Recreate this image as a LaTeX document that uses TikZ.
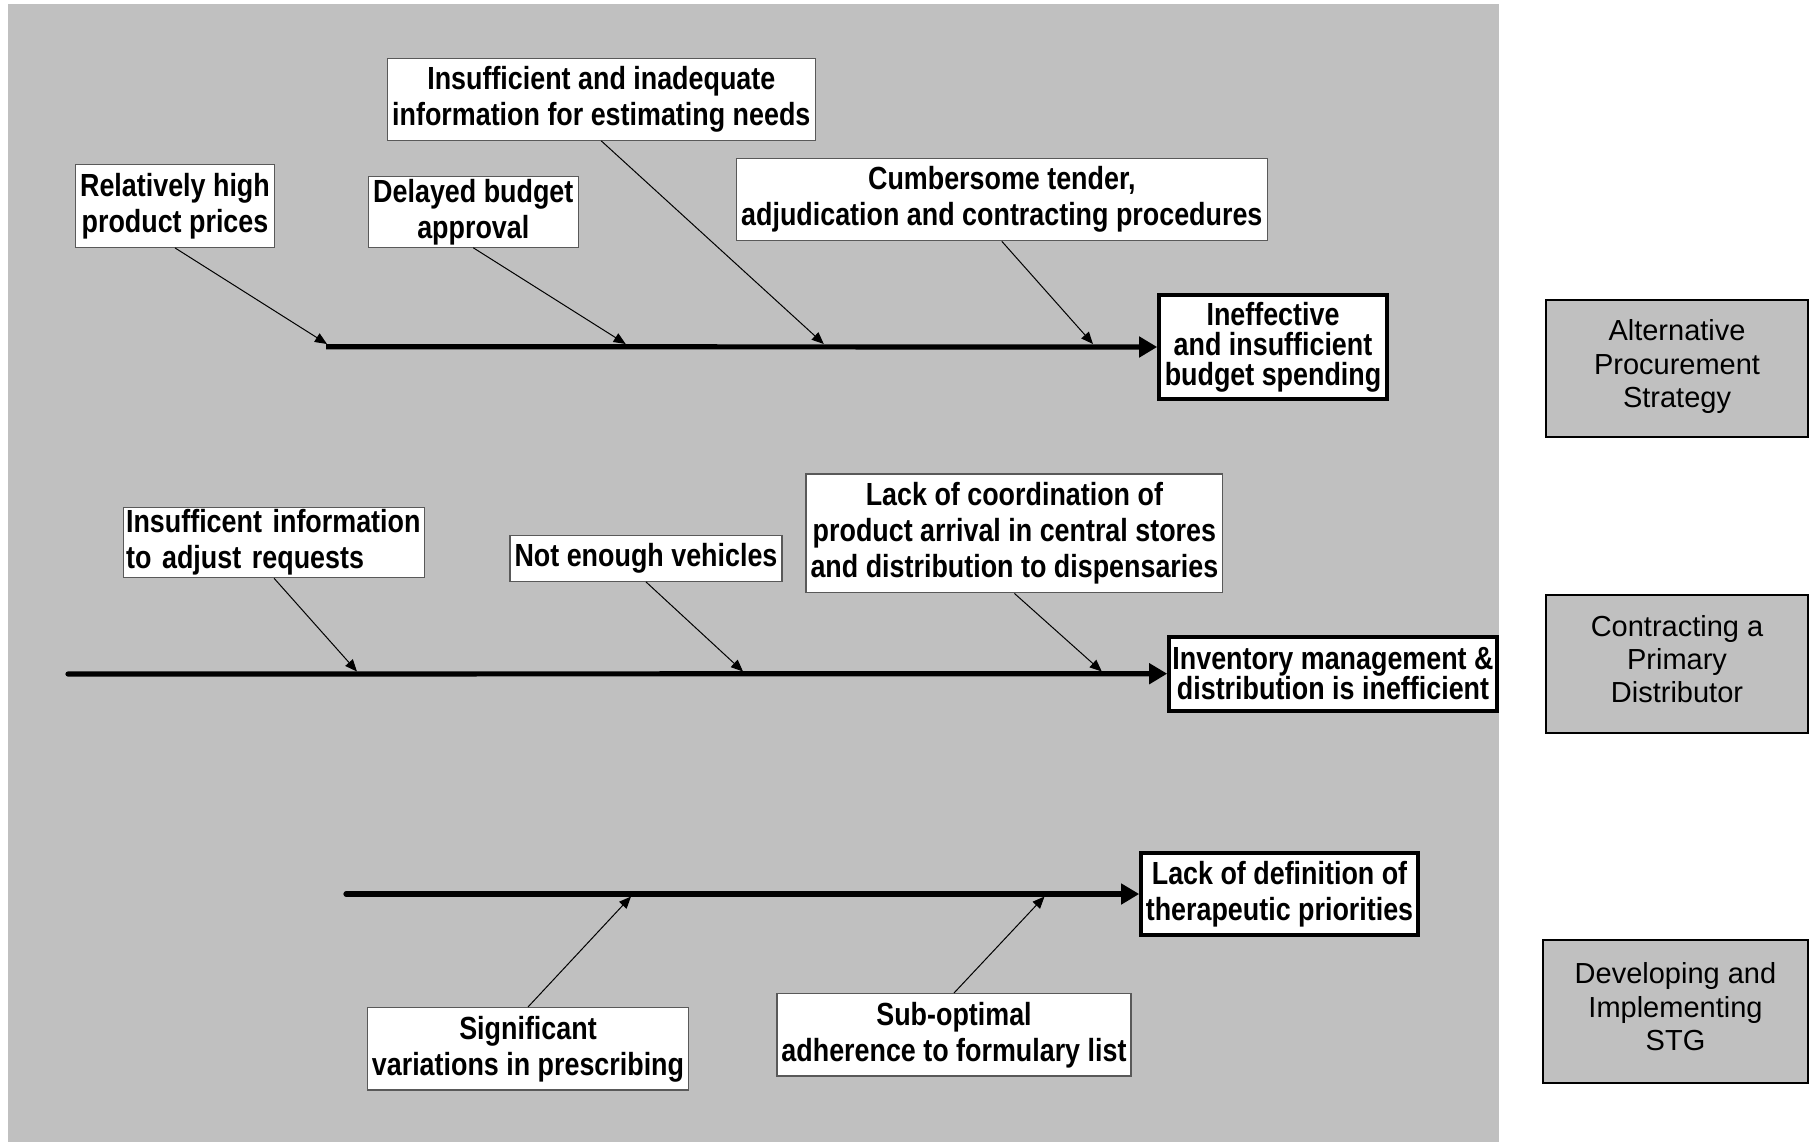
\documentclass[tikz,border=0pt]{standalone}
\usepackage{fontspec}
\setmainfont{Liberation Sans}
\newfontfamily\narrowfont[FakeStretch=0.84]{Liberation Sans}
\usetikzlibrary{arrows.meta}
\definecolor{panel}{RGB}{192,192,192}
\newcommand\causefont{\narrowfont\bfseries\fontsize{16}{18}\selectfont}
\newcommand\tightfont{\narrowfont\bfseries\fontsize{16}{15}\selectfont}
\newcommand\remedyfont{\fontsize{14.5}{16.7}\selectfont}

\begin{document}
\begin{tikzpicture}[x=0.5pt,y=-0.5pt,
  cause/.style={draw=black!65, line width=0.6pt, fill=white, align=center, inner sep=1pt, font=\causefont},
  effect/.style={draw=black, line width=1.8pt, fill=white, align=center, inner sep=1pt, font=\causefont},
  remedy/.style={draw=black, line width=1.1pt, fill=panel, align=center, inner sep=1pt, font=\remedyfont},
  spine/.style={line width=2.6pt, -{Triangle[length=9pt,width=10pt]}},
  bone/.style={line width=0.5pt, -{Triangle[length=6pt,width=5pt]}},
]
\useasboundingbox (0,0) rectangle (1817,1142);
\fill[panel] (8,4) rectangle (1499,1142);

% --- budget branch ---
\node[effect, font=\tightfont, minimum width=114pt, minimum height=52pt] (eff1) at (1273,347)
  {Ineffective\\and insufficient\\budget spending};
\node[cause, minimum width=99.3pt, minimum height=41.5pt] (relhigh) at (175,205.8)
  {Relatively high\\product prices};
\node[cause, minimum width=104.8pt, minimum height=35.2pt] (delayed) at (473.3,212)
  {Delayed budget\\approval};
\node[cause, minimum width=213.8pt, minimum height=41pt] (insuff) at (601.3,99.3)
  {Insufficient and inadequate\\information for estimating needs};
\node[cause, minimum width=265.3pt, minimum height=41.2pt] (cumber) at (1001.8,199.5)
  {Cumbersome tender,\\adjudication and contracting procedures};

\coordinate (s1) at (326,346.7);
\coordinate (t1) at (327,344);
\coordinate (t2) at (625.7,344);
\coordinate (t3) at (823.8,344);
\coordinate (t4) at (1093,344);
\draw[spine] (s1) -- (eff1.west);
\draw[bone] (relhigh.south) -- (t1);
\draw[bone] (delayed.south) -- (t2);
\draw[bone] (insuff.south) -- (t3);
\draw[bone] (cumber.south) -- (t4);

% --- distribution branch ---
\node[effect, font=\tightfont, minimum width=164pt, minimum height=37pt] (eff2) at (1333,673.7)
  {Inventory management \&\\distribution is inefficient};
\node[cause, minimum width=150.7pt, minimum height=35.2pt, text width=148pt, align=left] (insuffent) at (274.1,542.5)
  {Insufficent information\\to adjust requests};
\node[cause, minimum width=136pt, minimum height=23pt] (vehicles) at (646,558.3)
  {Not enough vehicles};
\node[cause, minimum width=208.4pt, minimum height=59.4pt] (lackcoord) at (1014.4,533.4)
  {Lack of coordination of\\product arrival in central stores\\and distribution to dispensaries};

\coordinate (s2) at (68,674);
\coordinate (t5) at (357,671.5);
\coordinate (t6) at (743,671.5);
\coordinate (t7) at (1101.8,671.5);
\draw[spine, line cap=round] (s2) -- (eff2.west);
\draw[bone] (insuffent.south) -- (t5);
\draw[bone] (vehicles.south) -- (t6);
\draw[bone] (lackcoord.south) -- (t7);

% --- prescribing branch ---
\node[effect, minimum width=138.5pt, minimum height=41pt] (eff3) at (1279.5,894)
  {Lack of definition of\\therapeutic priorities};
\node[cause, minimum width=160.5pt, minimum height=41.2pt] (signif) at (528,1048.8)
  {Significant\\variations in prescribing};
\node[cause, minimum width=177pt, minimum height=41.2pt] (subopt) at (954,1034.8)
  {Sub-optimal\\adherence to formulary list};

\coordinate (s3) at (346,894);
\coordinate (t8) at (631,896.5);
\coordinate (t9) at (1044.5,896.5);
\draw[spine, line cap=round] (s3) -- (eff3.west);
\draw[bone] (signif.north) -- (t8);
\draw[bone] (subopt.north) -- (t9);

% --- interventions ---
\node[remedy, minimum width=131pt, minimum height=68.5pt, text depth=5pt] (alt) at (1677,368.5)
  {Alternative\\Procurement\\Strategy};
\node[remedy, minimum width=131pt, minimum height=69pt, text depth=5pt] (contract) at (1677,664)
  {Contracting a\\Primary\\Distributor};
\node[remedy, minimum width=132.5pt, minimum height=71.5pt, text depth=5pt] (stg) at (1675.5,1011.5)
  {Developing and\\Implementing\\STG};
\end{tikzpicture}
\end{document}
